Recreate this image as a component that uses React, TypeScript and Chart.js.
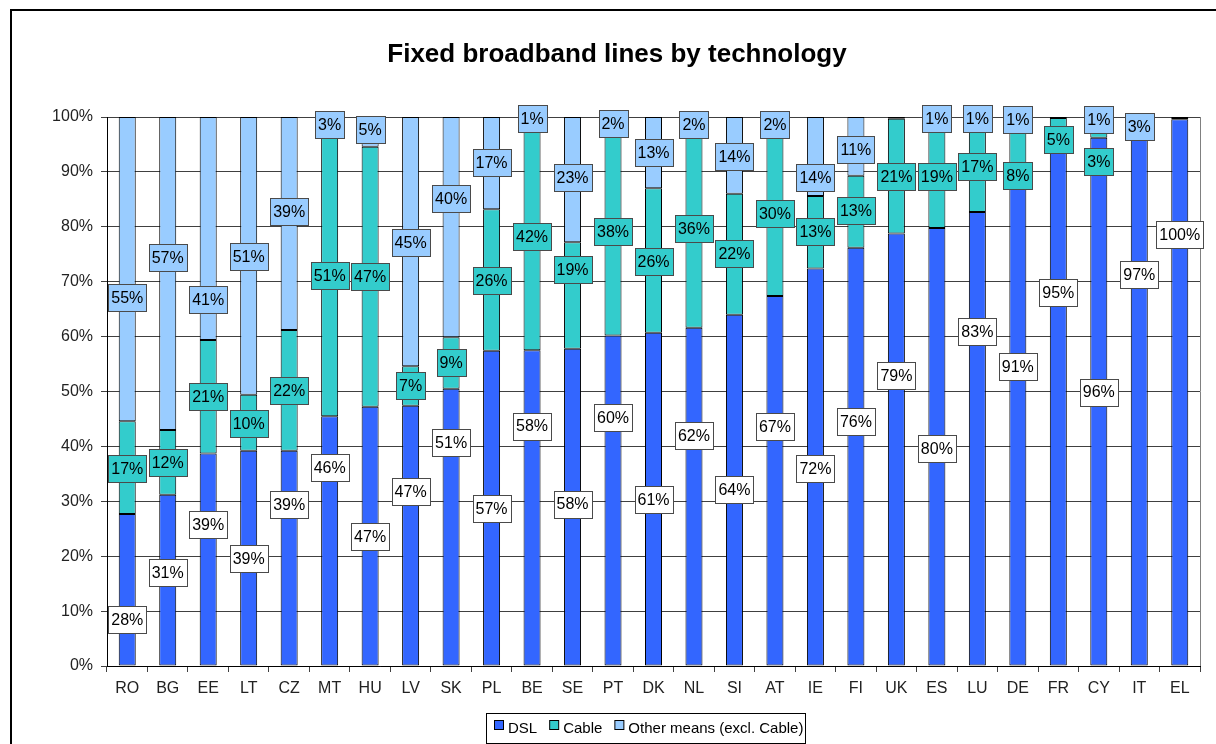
import { useEffect, useRef } from 'react';
import { Chart, registerables } from 'chart.js';

Chart.register(...registerables);

const FONT = 'Arial, "Liberation Sans", sans-serif';

const countries = ['RO', 'BG', 'EE', 'LT', 'CZ', 'MT', 'HU', 'LV', 'SK', 'PL', 'BE', 'SE', 'PT', 'DK', 'NL', 'SI', 'AT', 'IE', 'FI', 'UK', 'ES', 'LU', 'DE', 'FR', 'CY', 'IT', 'EL'];

const dsl = [27.7, 31.2, 38.7, 39.2, 39.2, 45.5, 47.2, 47.4, 50.5, 57.4, 57.5, 57.8, 60.2, 60.7, 61.6, 64.0, 67.4, 72.4, 76.2, 78.8, 79.8, 82.7, 91.2, 94.7, 96.2, 97.0, 99.6];
const cable = [16.9, 11.8, 20.7, 10.2, 22.0, 51.1, 47.4, 7.2, 9.4, 25.8, 41.7, 19.4, 37.8, 26.3, 36.4, 22.0, 30.2, 13.2, 13.1, 20.9, 18.9, 16.5, 7.8, 5.1, 2.7, 0, 0.2];
const other = [55.4, 57.0, 40.6, 50.6, 38.8, 3.4, 5.4, 45.4, 40.1, 16.8, 0.8, 22.8, 2.0, 13.0, 2.0, 14.0, 2.4, 14.4, 10.7, 0.3, 1.3, 0.8, 1.0, 0.2, 1.1, 3.0, 0.2];

// where each data label box sits (in % on the value axis), as placed in the original
const dslLabelAt = [8.4, 17.1, 25.7, 19.6, 29.4, 36.2, 23.6, 31.8, 40.7, 28.7, 43.7, 29.5, 45.2, 30.3, 41.9, 32.1, 43.6, 36.0, 44.5, 52.9, 39.6, 61.0, 54.5, 68.0, 49.9, 71.3, 78.6];
const cableLabelAt = [36.0, 37.1, 49.1, 44.2, 50.2, 71.1, 71.0, 51.1, 55.2, 70.2, 78.2, 72.2, 79.1, 73.6, 79.6, 75.1, 82.4, 79.1, 82.9, 89.1, 89.1, 90.9, 89.3, 95.9, 91.9, 0, 0];
const otherLabelAt = [67.1, 74.4, 66.7, 74.6, 82.7, 98.6, 97.7, 77.1, 85.1, 91.7, 99.7, 88.9, 98.8, 93.5, 98.6, 92.8, 98.6, 88.9, 94.0, 0, 99.7, 99.7, 99.6, 0, 99.6, 98.3, 0];

const seriesNames = ['DSL', 'Cable', 'Other means (excl. Cable)'];
const seriesColors = ['#3366FF', '#33CCCC', '#99CCFF'];
const labelFills = ['#FFFFFF', '#33CCCC', '#99CCFF'];
const labelPositions = [dslLabelAt, cableLabelAt, otherLabelAt];
const yTicks = [0, 10, 20, 30, 40, 50, 60, 70, 80, 90, 100];

const TITLE = 'Fixed broadband lines by technology';

const decorPlugin = {
  id: 'decor',
  afterDatasetsDraw(chart: any) {
    const ctx = chart.ctx;
    const ys = chart.scales.y;
    const area = chart.chartArea;
    // right frame line of plot area
    ctx.save();
    ctx.strokeStyle = '#808080';
    ctx.lineWidth = 1;
    ctx.beginPath();
    ctx.moveTo(Math.round(area.right) + 0.5, area.top);
    ctx.lineTo(Math.round(area.right) + 0.5, area.bottom);
    ctx.stroke();

    ctx.font = '16px ' + FONT;
    ctx.textAlign = 'center';
    ctx.textBaseline = 'middle';
    chart.data.datasets.forEach((ds: any, di: number) => {
      const meta = chart.getDatasetMeta(di);
      const pos = labelPositions[di];
      ds.data.forEach((v: number, i: number) => {
        if (v < 0.5) return;
        const txt = Math.round(v) + '%';
        const x = meta.data[i].x;
        const cy = ys.getPixelForValue(pos[i]);
        const w = Math.round(ctx.measureText(txt).width + 6);
        const h = 27;
        const bx = Math.round(x - w / 2) + 0.5;
        const by = Math.round(cy - h / 2) + 0.5;
        ctx.fillStyle = labelFills[di];
        ctx.fillRect(bx, by, w, h);
        ctx.strokeStyle = '#4a4a4a';
        ctx.lineWidth = 1;
        ctx.strokeRect(bx, by, w, h);
        ctx.fillStyle = '#000';
        ctx.fillText(txt, x, cy + 1);
      });
    });
    ctx.restore();
  },
  afterDraw(chart: any) {
    const ctx = chart.ctx;
    const area = chart.chartArea;
    ctx.save();
    // title
    ctx.font = 'bold 26px ' + FONT;
    ctx.fillStyle = '#000';
    ctx.textAlign = 'center';
    ctx.textBaseline = 'alphabetic';
    ctx.fillText(TITLE, 605, 51);

    // legend
    ctx.font = '15px ' + FONT;
    const box = 10;
    const gapText = 4;
    const gapItem = 12;
    const widths = seriesNames.map((n) => ctx.measureText(n).width);
    let total = 0;
    widths.forEach((w, i) => {
      total += box + gapText + w + (i < widths.length - 1 ? gapItem : 0);
    });
    const cx = (area.left + area.right) / 2 - 5;
    let x = Math.round(cx - total / 2);
    const top = 702;
    const bottom = 732;
    ctx.strokeStyle = '#000';
    ctx.lineWidth = 1;
    ctx.strokeRect(x - 7.5, top + 0.5, Math.round(total + 10), bottom - top);
    ctx.textAlign = 'left';
    seriesNames.forEach((n, i) => {
      ctx.fillStyle = seriesColors[i];
      ctx.fillRect(x + 0.5, 709.5, box - 1, box - 1);
      ctx.strokeStyle = '#000';
      ctx.strokeRect(x + 0.5, 709.5, box - 1, box - 1);
      ctx.fillStyle = '#000';
      ctx.fillText(n, x + box + gapText, 721.5);
      x += box + gapText + widths[i] + gapItem;
    });
    ctx.restore();
  },
};

export default function App() {
  const ref = useRef<HTMLCanvasElement | null>(null);

  useEffect(() => {
    if (!ref.current) return;
    Chart.defaults.font.family = FONT;
    const data = [dsl, cable, other];
    const chart = new Chart(ref.current, {
      type: 'bar',
      data: {
        labels: countries,
        datasets: data.map((d, i) => ({
          label: seriesNames[i],
          data: d,
          backgroundColor: seriesColors[i],
          borderColor: '#000',
          borderWidth: 1,
          borderSkipped: false,
          barPercentage: 0.42,
          categoryPercentage: 1,
        })),
      },
      options: {
        responsive: false,
        animation: false,
        devicePixelRatio: 1,
        layout: { padding: { left: 0, top: 106, right: 16, bottom: 38 } },
        plugins: {
          legend: { display: false },
          title: { display: false },
          tooltip: { enabled: false },
        },
        scales: {
          x: {
            stacked: true,
            afterFit: (s: any) => {
              s.height = 40;
            },
            grid: {
              offset: true,
              drawOnChartArea: false,
              drawTicks: true,
              tickLength: 6,
              color: '#404040',
            },
            border: { color: '#000', width: 1 },
            ticks: { font: { size: 16, family: FONT }, color: '#222', padding: 7, maxRotation: 0, autoSkip: false },
          },
          y: {
            stacked: true,
            min: 0,
            max: 100,
            afterFit: (s: any) => {
              s.width = 95;
            },
            afterBuildTicks: (s: any) => {
              s.ticks = yTicks.map((v) => ({ value: v }));
            },
            grid: { color: '#404040', lineWidth: 1, tickLength: 6 },
            border: { color: '#000', width: 1 },
            ticks: {
              font: { size: 16, family: FONT },
              color: '#222',
              padding: 8,
              callback: (v: any) => v + '%',
            },
          },
        },
      },
      plugins: [decorPlugin],
    });
    return () => chart.destroy();
  }, []);

  return (
    <div style={{ position: 'fixed', left: 0, top: 0, width: 1216, height: 744, overflow: 'hidden', background: '#fff' }}>
      <div
        style={{
          position: 'absolute',
          left: 10,
          top: 9,
          width: 1400,
          height: 900,
          border: '2px solid #000',
          boxSizing: 'border-box',
        }}
      />
      <div style={{ position: 'absolute', left: 12, top: 11, width: 1204, height: 733 }}>
        <canvas ref={ref} width={1204} height={733} style={{ display: 'block' }} />
      </div>
    </div>
  );
}
